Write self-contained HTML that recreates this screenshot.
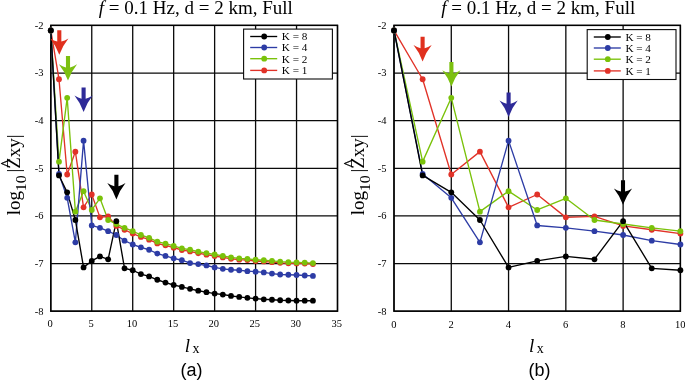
<!DOCTYPE html>
<html><head><meta charset="utf-8"><title>Figure</title>
<style>
html,body{margin:0;padding:0;background:#fff;}
body{width:685px;height:380px;overflow:hidden;}
svg{display:block;}
text{font-family:"Liberation Serif","Times New Roman",serif;fill:#000;}
.sans{font-family:"Liberation Sans",Arial,sans-serif;}
.tick{font-size:10.5px;}
.leg{font-size:11.2px;}
.ttl{font-size:19px;}
</style></head><body>
<svg width="685" height="380" viewBox="0 0 685 380">
<rect x="0" y="0" width="685" height="380" fill="#fff"/>
<path d="M50.80,25.40V311.20M91.76,25.40V311.20M132.71,25.40V311.20M173.67,25.40V311.20M214.63,25.40V311.20M255.59,25.40V311.20M296.54,25.40V311.20M337.50,25.40V311.20M50.80,311.20H337.50M50.80,263.57H337.50M50.80,215.93H337.50M50.80,168.30H337.50M50.80,120.67H337.50M50.80,73.03H337.50M50.80,25.40H337.50" stroke="#0a0a0a" stroke-width="1.3" fill="none" stroke-linecap="square"/>
<rect x="50.80" y="25.40" width="286.70" height="285.80" fill="none" stroke="#000" stroke-width="1.4"/>
<text class="tick" x="43.4" y="314.6" text-anchor="end">-8</text>
<text class="tick" x="43.4" y="267.0" text-anchor="end">-7</text>
<text class="tick" x="43.4" y="219.3" text-anchor="end">-6</text>
<text class="tick" x="43.4" y="171.7" text-anchor="end">-5</text>
<text class="tick" x="43.4" y="124.1" text-anchor="end">-4</text>
<text class="tick" x="43.4" y="76.4" text-anchor="end">-3</text>
<text class="tick" x="43.4" y="28.8" text-anchor="end">-2</text>
<text class="tick" x="50.0" y="327.0" text-anchor="middle">0</text>
<text class="tick" x="91.0" y="327.0" text-anchor="middle">5</text>
<text class="tick" x="131.9" y="327.0" text-anchor="middle">10</text>
<text class="tick" x="172.9" y="327.0" text-anchor="middle">15</text>
<text class="tick" x="213.8" y="327.0" text-anchor="middle">20</text>
<text class="tick" x="254.8" y="327.0" text-anchor="middle">25</text>
<text class="tick" x="295.7" y="327.0" text-anchor="middle">30</text>
<text class="tick" x="336.7" y="327.0" text-anchor="middle">35</text>
<polyline points="50.80,30.40 58.99,79.23 67.18,174.49 75.37,151.63 83.57,207.36 91.76,194.50 99.95,217.36 108.14,216.41 116.33,225.94 124.52,229.75 132.71,233.56 140.91,236.89 149.10,239.70 157.29,243.47 165.48,245.33 173.67,247.67 181.86,250.00 190.05,251.39 198.25,253.25 206.44,254.63 214.63,256.01 222.82,257.40 231.01,258.78 239.20,259.69 247.39,260.12 255.59,261.03 263.78,261.46 271.97,262.13 280.16,262.80 288.35,263.23 296.54,263.42 304.73,263.61 312.93,264.04" fill="none" stroke="#E13228" stroke-width="1.35" stroke-linejoin="round"/>
<polyline points="50.80,30.40 58.99,161.63 67.18,97.80 75.37,211.65 83.57,191.16 91.76,209.98 99.95,198.31 108.14,219.98 116.33,224.03 124.52,227.84 132.71,231.18 140.91,234.99 149.10,237.84 157.29,241.66 165.48,243.56 173.67,245.94 181.86,248.32 190.05,249.75 198.25,251.66 206.44,253.09 214.63,254.52 222.82,255.95 231.01,257.37 239.20,258.33 247.39,258.80 255.59,259.76 263.78,260.23 271.97,260.95 280.16,261.66 288.35,262.14 296.54,262.38 304.73,262.61 312.93,263.09" fill="none" stroke="#7AC20A" stroke-width="1.35" stroke-linejoin="round"/>
<polyline points="50.80,30.40 58.99,174.02 67.18,197.83 75.37,242.37 83.57,140.67 91.76,225.46 99.95,227.84 108.14,231.18 116.33,234.99 124.52,240.70 132.71,244.51 140.91,247.37 149.10,249.75 157.29,253.56 165.48,255.95 173.67,258.33 181.86,260.23 190.05,263.09 198.25,264.04 206.44,265.47 214.63,267.38 222.82,268.81 231.01,269.76 239.20,270.24 247.39,271.19 255.59,271.66 263.78,272.38 271.97,273.57 280.16,274.52 288.35,274.76 296.54,275.00 304.73,275.48 312.93,275.95" fill="none" stroke="#2D3CA5" stroke-width="1.35" stroke-linejoin="round"/>
<polyline points="50.80,30.40 58.99,175.45 67.18,192.35 75.37,219.98 83.57,267.38 91.76,260.95 99.95,256.42 108.14,259.28 116.33,221.17 124.52,268.33 132.71,270.24 140.91,274.05 149.10,276.43 157.29,279.76 165.48,282.62 173.67,285.00 181.86,286.91 190.05,288.81 198.25,290.72 206.44,292.15 214.63,293.58 222.82,294.53 231.01,295.96 239.20,296.91 247.39,297.86 255.59,298.58 263.78,299.29 271.97,299.77 280.16,300.24 288.35,300.48 296.54,300.72 304.73,300.72 312.93,300.72" fill="none" stroke="#000000" stroke-width="1.35" stroke-linejoin="round"/>
<g fill="#E13228"><circle cx="50.80" cy="30.40" r="2.9"/><circle cx="58.99" cy="79.23" r="2.9"/><circle cx="67.18" cy="174.49" r="2.9"/><circle cx="75.37" cy="151.63" r="2.9"/><circle cx="83.57" cy="207.36" r="2.9"/><circle cx="91.76" cy="194.50" r="2.9"/><circle cx="99.95" cy="217.36" r="2.9"/><circle cx="108.14" cy="216.41" r="2.9"/><circle cx="116.33" cy="225.94" r="2.9"/><circle cx="124.52" cy="229.75" r="2.9"/><circle cx="132.71" cy="233.56" r="2.9"/><circle cx="140.91" cy="236.89" r="2.9"/><circle cx="149.10" cy="239.70" r="2.9"/><circle cx="157.29" cy="243.47" r="2.9"/><circle cx="165.48" cy="245.33" r="2.9"/><circle cx="173.67" cy="247.67" r="2.9"/><circle cx="181.86" cy="250.00" r="2.9"/><circle cx="190.05" cy="251.39" r="2.9"/><circle cx="198.25" cy="253.25" r="2.9"/><circle cx="206.44" cy="254.63" r="2.9"/><circle cx="214.63" cy="256.01" r="2.9"/><circle cx="222.82" cy="257.40" r="2.9"/><circle cx="231.01" cy="258.78" r="2.9"/><circle cx="239.20" cy="259.69" r="2.9"/><circle cx="247.39" cy="260.12" r="2.9"/><circle cx="255.59" cy="261.03" r="2.9"/><circle cx="263.78" cy="261.46" r="2.9"/><circle cx="271.97" cy="262.13" r="2.9"/><circle cx="280.16" cy="262.80" r="2.9"/><circle cx="288.35" cy="263.23" r="2.9"/><circle cx="296.54" cy="263.42" r="2.9"/><circle cx="304.73" cy="263.61" r="2.9"/><circle cx="312.93" cy="264.04" r="2.9"/></g>
<g fill="#7AC20A"><circle cx="50.80" cy="30.40" r="2.9"/><circle cx="58.99" cy="161.63" r="2.9"/><circle cx="67.18" cy="97.80" r="2.9"/><circle cx="75.37" cy="211.65" r="2.9"/><circle cx="83.57" cy="191.16" r="2.9"/><circle cx="91.76" cy="209.98" r="2.9"/><circle cx="99.95" cy="198.31" r="2.9"/><circle cx="108.14" cy="219.98" r="2.9"/><circle cx="116.33" cy="224.03" r="2.9"/><circle cx="124.52" cy="227.84" r="2.9"/><circle cx="132.71" cy="231.18" r="2.9"/><circle cx="140.91" cy="234.99" r="2.9"/><circle cx="149.10" cy="237.84" r="2.9"/><circle cx="157.29" cy="241.66" r="2.9"/><circle cx="165.48" cy="243.56" r="2.9"/><circle cx="173.67" cy="245.94" r="2.9"/><circle cx="181.86" cy="248.32" r="2.9"/><circle cx="190.05" cy="249.75" r="2.9"/><circle cx="198.25" cy="251.66" r="2.9"/><circle cx="206.44" cy="253.09" r="2.9"/><circle cx="214.63" cy="254.52" r="2.9"/><circle cx="222.82" cy="255.95" r="2.9"/><circle cx="231.01" cy="257.37" r="2.9"/><circle cx="239.20" cy="258.33" r="2.9"/><circle cx="247.39" cy="258.80" r="2.9"/><circle cx="255.59" cy="259.76" r="2.9"/><circle cx="263.78" cy="260.23" r="2.9"/><circle cx="271.97" cy="260.95" r="2.9"/><circle cx="280.16" cy="261.66" r="2.9"/><circle cx="288.35" cy="262.14" r="2.9"/><circle cx="296.54" cy="262.38" r="2.9"/><circle cx="304.73" cy="262.61" r="2.9"/><circle cx="312.93" cy="263.09" r="2.9"/></g>
<g fill="#2D3CA5"><circle cx="50.80" cy="30.40" r="2.9"/><circle cx="58.99" cy="174.02" r="2.9"/><circle cx="67.18" cy="197.83" r="2.9"/><circle cx="75.37" cy="242.37" r="2.9"/><circle cx="83.57" cy="140.67" r="2.9"/><circle cx="91.76" cy="225.46" r="2.9"/><circle cx="99.95" cy="227.84" r="2.9"/><circle cx="108.14" cy="231.18" r="2.9"/><circle cx="116.33" cy="234.99" r="2.9"/><circle cx="124.52" cy="240.70" r="2.9"/><circle cx="132.71" cy="244.51" r="2.9"/><circle cx="140.91" cy="247.37" r="2.9"/><circle cx="149.10" cy="249.75" r="2.9"/><circle cx="157.29" cy="253.56" r="2.9"/><circle cx="165.48" cy="255.95" r="2.9"/><circle cx="173.67" cy="258.33" r="2.9"/><circle cx="181.86" cy="260.23" r="2.9"/><circle cx="190.05" cy="263.09" r="2.9"/><circle cx="198.25" cy="264.04" r="2.9"/><circle cx="206.44" cy="265.47" r="2.9"/><circle cx="214.63" cy="267.38" r="2.9"/><circle cx="222.82" cy="268.81" r="2.9"/><circle cx="231.01" cy="269.76" r="2.9"/><circle cx="239.20" cy="270.24" r="2.9"/><circle cx="247.39" cy="271.19" r="2.9"/><circle cx="255.59" cy="271.66" r="2.9"/><circle cx="263.78" cy="272.38" r="2.9"/><circle cx="271.97" cy="273.57" r="2.9"/><circle cx="280.16" cy="274.52" r="2.9"/><circle cx="288.35" cy="274.76" r="2.9"/><circle cx="296.54" cy="275.00" r="2.9"/><circle cx="304.73" cy="275.48" r="2.9"/><circle cx="312.93" cy="275.95" r="2.9"/></g>
<g fill="#000000"><circle cx="50.80" cy="30.40" r="2.9"/><circle cx="58.99" cy="175.45" r="2.9"/><circle cx="67.18" cy="192.35" r="2.9"/><circle cx="75.37" cy="219.98" r="2.9"/><circle cx="83.57" cy="267.38" r="2.9"/><circle cx="91.76" cy="260.95" r="2.9"/><circle cx="99.95" cy="256.42" r="2.9"/><circle cx="108.14" cy="259.28" r="2.9"/><circle cx="116.33" cy="221.17" r="2.9"/><circle cx="124.52" cy="268.33" r="2.9"/><circle cx="132.71" cy="270.24" r="2.9"/><circle cx="140.91" cy="274.05" r="2.9"/><circle cx="149.10" cy="276.43" r="2.9"/><circle cx="157.29" cy="279.76" r="2.9"/><circle cx="165.48" cy="282.62" r="2.9"/><circle cx="173.67" cy="285.00" r="2.9"/><circle cx="181.86" cy="286.91" r="2.9"/><circle cx="190.05" cy="288.81" r="2.9"/><circle cx="198.25" cy="290.72" r="2.9"/><circle cx="206.44" cy="292.15" r="2.9"/><circle cx="214.63" cy="293.58" r="2.9"/><circle cx="222.82" cy="294.53" r="2.9"/><circle cx="231.01" cy="295.96" r="2.9"/><circle cx="239.20" cy="296.91" r="2.9"/><circle cx="247.39" cy="297.86" r="2.9"/><circle cx="255.59" cy="298.58" r="2.9"/><circle cx="263.78" cy="299.29" r="2.9"/><circle cx="271.97" cy="299.77" r="2.9"/><circle cx="280.16" cy="300.24" r="2.9"/><circle cx="288.35" cy="300.48" r="2.9"/><circle cx="296.54" cy="300.72" r="2.9"/><circle cx="304.73" cy="300.72" r="2.9"/><circle cx="312.93" cy="300.72" r="2.9"/></g>
<path d="M57.25,30.20 L61.35,30.20 L61.35,41.60 Q64.70,40.60 68.40,38.40 Q62.70,45.40 59.30,54.80 Q55.90,45.40 50.20,38.40 Q53.90,40.60 57.25,41.60 Z" fill="#E0301E"/>
<path d="M65.95,56.00 L70.05,56.00 L70.05,67.40 Q73.40,66.40 77.10,64.20 Q71.40,71.20 68.00,80.60 Q64.60,71.20 58.90,64.20 Q62.60,66.40 65.95,67.40 Z" fill="#7CC010"/>
<path d="M81.55,87.40 L85.65,87.40 L85.65,98.80 Q89.00,97.80 92.70,95.60 Q87.00,102.60 83.60,112.00 Q80.20,102.60 74.50,95.60 Q78.20,97.80 81.55,98.80 Z" fill="#2E2A98"/>
<path d="M114.35,174.80 L118.45,174.80 L118.45,186.20 Q121.80,185.20 125.50,183.00 Q119.80,190.00 116.40,199.40 Q113.00,190.00 107.30,183.00 Q111.00,185.20 114.35,186.20 Z" fill="#000"/>
<rect x="243.6" y="29.1" width="88.8" height="49.9" fill="#fff" stroke="#0a0a0a" stroke-width="1.1"/>
<line x1="250.2" y1="36.5" x2="277.2" y2="36.5" stroke="#000000" stroke-width="1.35"/>
<circle cx="264.2" cy="36.5" r="2.9" fill="#000000"/>
<text class="leg" x="281.8" y="40.4">K = 8</text>
<line x1="250.2" y1="47.5" x2="277.2" y2="47.5" stroke="#2D3CA5" stroke-width="1.35"/>
<circle cx="264.2" cy="47.5" r="2.9" fill="#2D3CA5"/>
<text class="leg" x="281.8" y="51.4">K = 4</text>
<line x1="250.2" y1="58.7" x2="277.2" y2="58.7" stroke="#7AC20A" stroke-width="1.35"/>
<circle cx="264.2" cy="58.7" r="2.9" fill="#7AC20A"/>
<text class="leg" x="281.8" y="62.6">K = 2</text>
<line x1="250.2" y1="70.4" x2="277.2" y2="70.4" stroke="#E13228" stroke-width="1.35"/>
<circle cx="264.2" cy="70.4" r="2.9" fill="#E13228"/>
<text class="leg" x="281.8" y="74.3">K = 1</text>
<text class="ttl" x="98.8" y="13.6"><tspan font-style="italic">f</tspan> = 0.1 Hz, d = 2 km, Full</text>
<text x="184.8" y="352.2" font-size="19" font-style="italic">l</text>
<text x="192.4" y="352.8" font-size="14">x</text>
<text class="sans" x="180.6" y="376" font-size="18">(a)</text>
<g transform="translate(20.3,214.6) rotate(-90)"><text x="-0.7" y="0" font-size="19">log</text><text transform="translate(23.3,6) scale(1.14,1)" font-size="14">10</text><text x="42" y="0" font-size="19">|Zxy|</text><text x="46.9" y="-6.8" font-size="18" stroke="#000" stroke-width="0.25">^</text></g>
<path d="M394.00,25.40V311.20M451.28,25.40V311.20M508.56,25.40V311.20M565.84,25.40V311.20M623.12,25.40V311.20M680.40,25.40V311.20M394.00,311.20H680.40M394.00,263.57H680.40M394.00,215.93H680.40M394.00,168.30H680.40M394.00,120.67H680.40M394.00,73.03H680.40M394.00,25.40H680.40" stroke="#0a0a0a" stroke-width="1.3" fill="none" stroke-linecap="square"/>
<rect x="394.00" y="25.40" width="286.40" height="285.80" fill="none" stroke="#000" stroke-width="1.4"/>
<text class="tick" x="386.6" y="314.6" text-anchor="end">-8</text>
<text class="tick" x="386.6" y="267.0" text-anchor="end">-7</text>
<text class="tick" x="386.6" y="219.3" text-anchor="end">-6</text>
<text class="tick" x="386.6" y="171.7" text-anchor="end">-5</text>
<text class="tick" x="386.6" y="124.1" text-anchor="end">-4</text>
<text class="tick" x="386.6" y="76.4" text-anchor="end">-3</text>
<text class="tick" x="386.6" y="28.8" text-anchor="end">-2</text>
<text class="tick" x="393.8" y="328.0" text-anchor="middle">0</text>
<text class="tick" x="451.1" y="328.0" text-anchor="middle">2</text>
<text class="tick" x="508.4" y="328.0" text-anchor="middle">4</text>
<text class="tick" x="565.6" y="328.0" text-anchor="middle">6</text>
<text class="tick" x="622.9" y="328.0" text-anchor="middle">8</text>
<text class="tick" x="680.2" y="328.0" text-anchor="middle">10</text>
<polyline points="394.00,30.40 422.64,79.23 451.28,174.49 479.92,151.63 508.56,207.36 537.20,194.50 565.84,217.36 594.48,216.41 623.12,225.94 651.76,229.75 680.40,233.56" fill="none" stroke="#E13228" stroke-width="1.35" stroke-linejoin="round"/>
<polyline points="394.00,30.40 422.64,161.63 451.28,97.80 479.92,211.65 508.56,191.16 537.20,209.98 565.84,198.31 594.48,219.98 623.12,224.03 651.76,227.84 680.40,231.18" fill="none" stroke="#7AC20A" stroke-width="1.35" stroke-linejoin="round"/>
<polyline points="394.00,30.40 422.64,174.02 451.28,197.83 479.92,242.37 508.56,140.67 537.20,225.46 565.84,227.84 594.48,231.18 623.12,234.99 651.76,240.70 680.40,244.51" fill="none" stroke="#2D3CA5" stroke-width="1.35" stroke-linejoin="round"/>
<polyline points="394.00,30.40 422.64,175.45 451.28,192.35 479.92,219.98 508.56,267.38 537.20,260.95 565.84,256.42 594.48,259.28 623.12,221.17 651.76,268.33 680.40,270.24" fill="none" stroke="#000000" stroke-width="1.35" stroke-linejoin="round"/>
<g fill="#E13228"><circle cx="394.00" cy="30.40" r="2.9"/><circle cx="422.64" cy="79.23" r="2.9"/><circle cx="451.28" cy="174.49" r="2.9"/><circle cx="479.92" cy="151.63" r="2.9"/><circle cx="508.56" cy="207.36" r="2.9"/><circle cx="537.20" cy="194.50" r="2.9"/><circle cx="565.84" cy="217.36" r="2.9"/><circle cx="594.48" cy="216.41" r="2.9"/><circle cx="623.12" cy="225.94" r="2.9"/><circle cx="651.76" cy="229.75" r="2.9"/><circle cx="680.40" cy="233.56" r="2.9"/></g>
<g fill="#7AC20A"><circle cx="394.00" cy="30.40" r="2.9"/><circle cx="422.64" cy="161.63" r="2.9"/><circle cx="451.28" cy="97.80" r="2.9"/><circle cx="479.92" cy="211.65" r="2.9"/><circle cx="508.56" cy="191.16" r="2.9"/><circle cx="537.20" cy="209.98" r="2.9"/><circle cx="565.84" cy="198.31" r="2.9"/><circle cx="594.48" cy="219.98" r="2.9"/><circle cx="623.12" cy="224.03" r="2.9"/><circle cx="651.76" cy="227.84" r="2.9"/><circle cx="680.40" cy="231.18" r="2.9"/></g>
<g fill="#2D3CA5"><circle cx="394.00" cy="30.40" r="2.9"/><circle cx="422.64" cy="174.02" r="2.9"/><circle cx="451.28" cy="197.83" r="2.9"/><circle cx="479.92" cy="242.37" r="2.9"/><circle cx="508.56" cy="140.67" r="2.9"/><circle cx="537.20" cy="225.46" r="2.9"/><circle cx="565.84" cy="227.84" r="2.9"/><circle cx="594.48" cy="231.18" r="2.9"/><circle cx="623.12" cy="234.99" r="2.9"/><circle cx="651.76" cy="240.70" r="2.9"/><circle cx="680.40" cy="244.51" r="2.9"/></g>
<g fill="#000000"><circle cx="394.00" cy="30.40" r="2.9"/><circle cx="422.64" cy="175.45" r="2.9"/><circle cx="451.28" cy="192.35" r="2.9"/><circle cx="479.92" cy="219.98" r="2.9"/><circle cx="508.56" cy="267.38" r="2.9"/><circle cx="537.20" cy="260.95" r="2.9"/><circle cx="565.84" cy="256.42" r="2.9"/><circle cx="594.48" cy="259.28" r="2.9"/><circle cx="623.12" cy="221.17" r="2.9"/><circle cx="651.76" cy="268.33" r="2.9"/><circle cx="680.40" cy="270.24" r="2.9"/></g>
<path d="M420.55,36.80 L424.65,36.80 L424.65,48.20 Q428.00,47.20 431.70,45.00 Q426.00,52.00 422.60,61.40 Q419.20,52.00 413.50,45.00 Q417.20,47.20 420.55,48.20 Z" fill="#E0301E"/>
<path d="M449.35,62.00 L453.45,62.00 L453.45,73.40 Q456.80,72.40 460.50,70.20 Q454.80,77.20 451.40,86.60 Q448.00,77.20 442.30,70.20 Q446.00,72.40 449.35,73.40 Z" fill="#7CC010"/>
<path d="M506.55,92.40 L510.65,92.40 L510.65,103.80 Q514.00,102.80 517.70,100.60 Q512.00,107.60 508.60,117.00 Q505.20,107.60 499.50,100.60 Q503.20,102.80 506.55,103.80 Z" fill="#2E2A98"/>
<path d="M620.95,180.20 L625.05,180.20 L625.05,191.60 Q628.40,190.60 632.10,188.40 Q626.40,195.40 623.00,204.80 Q619.60,195.40 613.90,188.40 Q617.60,190.60 620.95,191.60 Z" fill="#000"/>
<rect x="587.2" y="29.6" width="88.8" height="49.9" fill="#fff" stroke="#0a0a0a" stroke-width="1.1"/>
<line x1="593.8" y1="37.0" x2="620.8" y2="37.0" stroke="#000000" stroke-width="1.35"/>
<circle cx="607.8" cy="37.0" r="2.9" fill="#000000"/>
<text class="leg" x="625.4" y="40.9">K = 8</text>
<line x1="593.8" y1="48.0" x2="620.8" y2="48.0" stroke="#2D3CA5" stroke-width="1.35"/>
<circle cx="607.8" cy="48.0" r="2.9" fill="#2D3CA5"/>
<text class="leg" x="625.4" y="51.9">K = 4</text>
<line x1="593.8" y1="59.2" x2="620.8" y2="59.2" stroke="#7AC20A" stroke-width="1.35"/>
<circle cx="607.8" cy="59.2" r="2.9" fill="#7AC20A"/>
<text class="leg" x="625.4" y="63.1">K = 2</text>
<line x1="593.8" y1="70.9" x2="620.8" y2="70.9" stroke="#E13228" stroke-width="1.35"/>
<circle cx="607.8" cy="70.9" r="2.9" fill="#E13228"/>
<text class="leg" x="625.4" y="74.8">K = 1</text>
<text class="ttl" x="441.2" y="13.6"><tspan font-style="italic">f</tspan> = 0.1 Hz, d = 2 km, Full</text>
<text x="529.1" y="352.2" font-size="19" font-style="italic">l</text>
<text x="536.7" y="352.8" font-size="14">x</text>
<text class="sans" x="528.4" y="376" font-size="18">(b)</text>
<g transform="translate(363.5,214.6) rotate(-90)"><text x="-0.7" y="0" font-size="19">log</text><text transform="translate(23.3,6) scale(1.14,1)" font-size="14">10</text><text x="42" y="0" font-size="19">|Zxy|</text><text x="46.9" y="-6.8" font-size="18" stroke="#000" stroke-width="0.25">^</text></g>
</svg></body></html>
